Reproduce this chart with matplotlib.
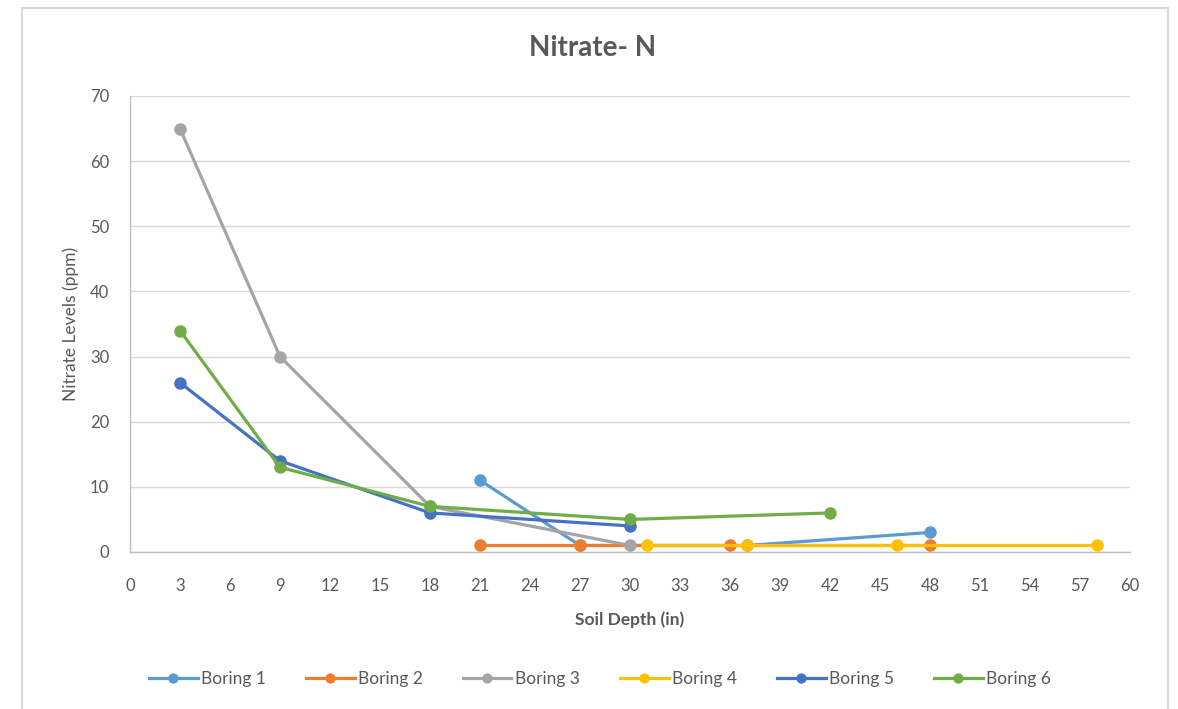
import matplotlib
matplotlib.use("Agg")
import matplotlib.pyplot as plt
from matplotlib.patches import Rectangle

plt.rcParams['font.family'] = ['Lato', 'DejaVu Sans']

# soil depth (in) and nitrate levels (ppm) per boring
depth_b1 = [21, 27, 37, 48]
nitrate_b1 = [11, 1, 1, 3]
depth_b2 = [21, 27, 36, 48]
nitrate_b2 = [1, 1, 1, 1]
depth_b3 = [3, 9, 18, 30]
nitrate_b3 = [65, 30, 7, 1]
depth_b4 = [31, 37, 46, 58]
nitrate_b4 = [1, 1, 1, 1]
depth_b5 = [3, 9, 18, 30]
nitrate_b5 = [26, 14, 6, 4]
depth_b6 = [3, 9, 18, 30, 42]
nitrate_b6 = [34, 13, 7, 5, 6]

names = ['Boring 1', 'Boring 2', 'Boring 3', 'Boring 4', 'Boring 5', 'Boring 6']
colors = ['#5B9BD5', '#ED7D31', '#A5A5A5', '#FFC000', '#4472C4', '#70AD47']
series = [(depth_b1, nitrate_b1), (depth_b2, nitrate_b2), (depth_b3, nitrate_b3),
          (depth_b4, nitrate_b4), (depth_b5, nitrate_b5), (depth_b6, nitrate_b6)]

fig = plt.figure(figsize=(11.78, 7.09), dpi=100)
ax = fig.add_axes([130/1178, 1-552/709, 1000/1178, 456/709])

# outer chart frame
fig.patches.append(Rectangle((22/1178, -0.02), 1146/1178, 1-8/709+0.02,
                             transform=fig.transFigure, fill=False,
                             edgecolor='#D9D9D9', lw=1.5))

for (x, y), name, c in zip(series, names, colors):
    ax.plot(x, y, '-o', color=c, lw=2.3, ms=8, label=name, zorder=3)

ax.set_xlim(0, 60)
ax.set_ylim(0, 70)
ax.set_xticks(range(0, 61, 3))
ax.set_yticks(range(0, 71, 10))
ax.grid(axis='y', color='#D9D9D9', lw=1)
ax.set_axisbelow(True)
for s in ['top', 'right']:
    ax.spines[s].set_visible(False)
for s in ['left', 'bottom']:
    ax.spines[s].set_color('#BFBFBF')
    ax.spines[s].set_linewidth(1)
ax.tick_params(length=0, colors='#595959', labelsize=12)
ax.tick_params(axis='x', pad=19)
ax.tick_params(axis='y', pad=15)

fig.text(593/1178, 1-48/709, 'Nitrate- N', fontsize=20, fontweight='bold',
         color='#595959', ha='center', va='center')
ax.set_xlabel('Soil Depth (in)', fontsize=12.5, fontweight='bold', color='#595959', labelpad=12)
ax.set_ylabel('Nitrate Levels (ppm)', fontsize=12.5, color='#595959', labelpad=8)

leg = ax.legend(loc='center', bbox_to_anchor=(0.47, -0.278), ncol=6, frameon=False,
                fontsize=12.5, handlelength=2.8, handletextpad=0.2, columnspacing=2.3,
                markerscale=0.8)
for t in leg.get_texts():
    t.set_color('#595959')

fig.savefig('out.png', dpi=100)
